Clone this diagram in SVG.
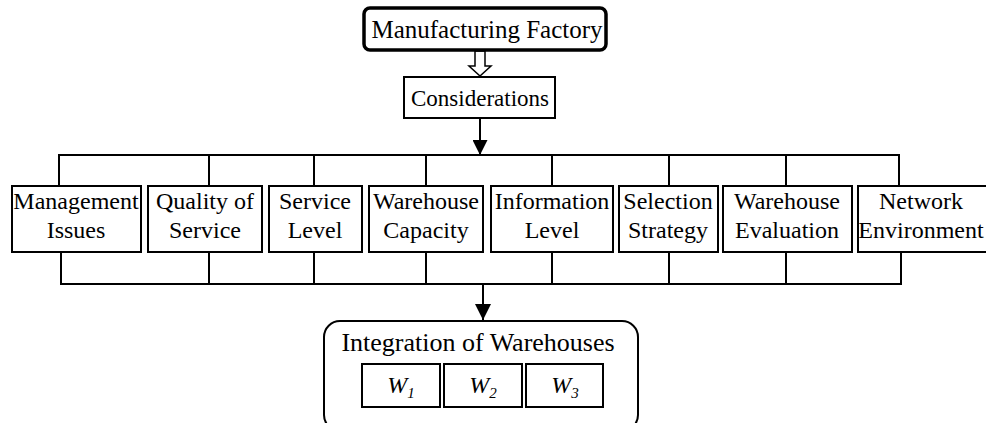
<svg xmlns="http://www.w3.org/2000/svg" width="986" height="423" viewBox="0 0 986 423">
<style>
text{font-family:"Liberation Serif","Times New Roman",serif;fill:#000;text-anchor:middle;font-size:24px}
.box{fill:#fff;stroke:#000;stroke-width:2}
.ln{fill:none;stroke:#000;stroke-width:2}
.it{font-style:italic}
</style>
<defs>
<marker id="ah" viewBox="0 0 10 10" refX="10" refY="5" markerWidth="16" markerHeight="15" markerUnits="userSpaceOnUse" orient="auto">
<path d="M0,0 L10,5 L0,10 Z" fill="#000"/>
</marker>
<marker id="ah2" viewBox="0 0 10 10" refX="10" refY="5" markerWidth="18" markerHeight="16" markerUnits="userSpaceOnUse" orient="auto">
<path d="M0,0 L10,5 L0,10 Z" fill="#000"/>
</marker>
</defs>
<g id="connectors">
<polygon points="475,51 485,51 485,66 491,66 480,76 469,66 475,66" fill="#fff" stroke="#000" stroke-width="1.5"/>
<line class="ln" x1="480" y1="118" x2="480" y2="155" marker-end="url(#ah)"/>
<polyline class="ln" points="59,186 59,155 899,155 899,186"/>
<line class="ln" x1="209" y1="155" x2="209" y2="186"/>
<line class="ln" x1="314" y1="155" x2="314" y2="186"/>
<line class="ln" x1="426" y1="155" x2="426" y2="186"/>
<line class="ln" x1="552" y1="155" x2="552" y2="186"/>
<line class="ln" x1="669" y1="155" x2="669" y2="186"/>
<line class="ln" x1="786" y1="155" x2="786" y2="186"/>
<polyline class="ln" points="61,252 61,284 901,284 901,252"/>
<line class="ln" x1="209" y1="252" x2="209" y2="284"/>
<line class="ln" x1="314" y1="252" x2="314" y2="284"/>
<line class="ln" x1="426" y1="252" x2="426" y2="284"/>
<line class="ln" x1="552" y1="252" x2="552" y2="284"/>
<line class="ln" x1="669" y1="252" x2="669" y2="284"/>
<line class="ln" x1="786" y1="252" x2="786" y2="284"/>
<line class="ln" x1="483" y1="284" x2="483" y2="320" marker-end="url(#ah2)"/>
</g>
<g id="manufacturing">
<rect x="364" y="8" width="242" height="42" rx="6" fill="#fff" stroke="#000" stroke-width="3.5"/>
<text x="487" y="38" style="font-size:25px">Manufacturing Factory</text>
</g>
<g id="considerations">
<rect class="box" x="404" y="77" width="151" height="41"/>
<text x="480" y="106" style="font-size:23px">Considerations</text>
</g>
<g id="management">
<rect class="box" x="12" y="186" width="129" height="66"/>
<text x="76" y="209">Management</text><text x="76" y="238">Issues</text>
</g>
<g id="quality">
<rect class="box" x="148" y="186" width="114" height="66"/>
<text x="205" y="209">Quality of</text><text x="205" y="238">Service</text>
</g>
<g id="service">
<rect class="box" x="269" y="186" width="93" height="66"/>
<text x="315" y="209">Service</text><text x="315" y="238">Level</text>
</g>
<g id="capacity">
<rect class="box" x="369" y="186" width="114" height="66"/>
<text x="426" y="209">Warehouse</text><text x="426" y="238">Capacity</text>
</g>
<g id="information">
<rect class="box" x="491" y="186" width="122" height="66"/>
<text x="552" y="209">Information</text><text x="552" y="238">Level</text>
</g>
<g id="selection">
<rect class="box" x="619" y="186" width="99" height="66"/>
<text x="668" y="209">Selection</text><text x="668" y="238">Strategy</text>
</g>
<g id="evaluation">
<rect class="box" x="723" y="186" width="129" height="66"/>
<text x="787" y="209">Warehouse</text><text x="787" y="238">Evaluation</text>
</g>
<g id="network">
<rect class="box" x="858" y="186" width="140" height="66"/>
<text x="921" y="209">Network</text><text x="921" y="238">Environment</text>
</g>
<g id="integration">
<rect class="box" x="324" y="321" width="314" height="110" rx="16"/>
<text x="478" y="351" style="font-size:26px">Integration of Warehouses</text>
</g>
<g id="w1">
<rect class="box" x="362" y="364" width="78" height="43"/>
<text x="401" y="393" class="it">W<tspan font-size="15" dy="5">1</tspan></text>
</g>
<g id="w2">
<rect class="box" x="444" y="364" width="78" height="43"/>
<text x="483" y="393" class="it">W<tspan font-size="15" dy="5">2</tspan></text>
</g>
<g id="w3">
<rect class="box" x="526" y="364" width="77" height="43"/>
<text x="565" y="393" class="it">W<tspan font-size="15" dy="5">3</tspan></text>
</g>
</svg>
